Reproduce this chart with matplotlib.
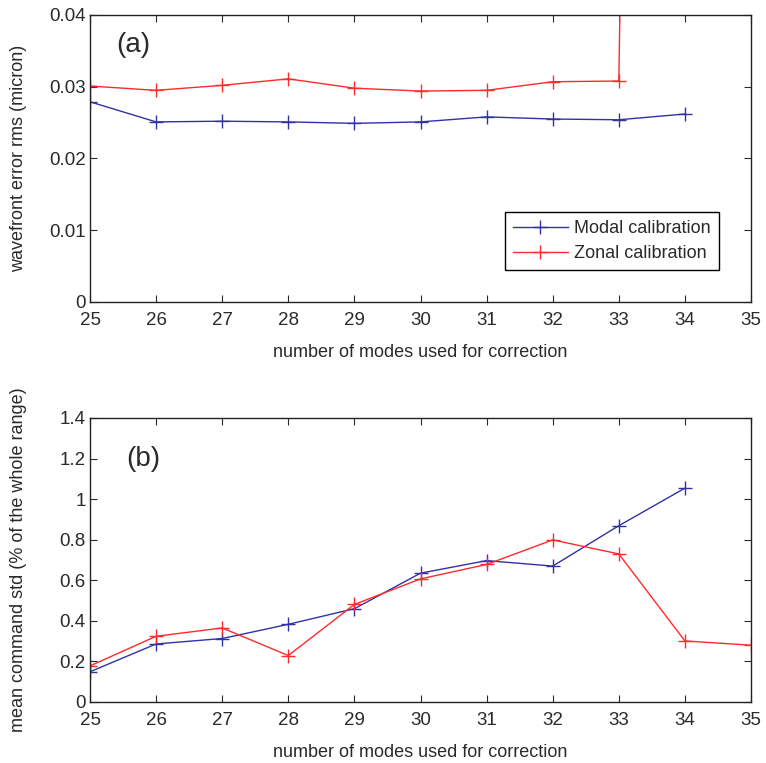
import matplotlib
matplotlib.use("Agg")
import matplotlib.pyplot as plt
import numpy as np

modes = [25, 26, 27, 28, 29, 30, 31, 32, 33, 34, 35]

# (a) wavefront error rms (micron)
wf_modal = [0.0279, 0.0251, 0.0252, 0.0251, 0.0249, 0.0251, 0.0258, 0.0255, 0.0254, 0.0262]
wf_zonal = [0.0301, 0.0295, 0.0302, 0.0311, 0.0298, 0.0294, 0.0295, 0.0307, 0.0308, 0.61, 0.55]

# (b) mean command std (% of the whole range)
cmd_modal = [0.149, 0.286, 0.313, 0.383, 0.460, 0.635, 0.697, 0.670, 0.869, 1.054]
cmd_zonal = [0.178, 0.324, 0.365, 0.229, 0.481, 0.607, 0.678, 0.799, 0.730, 0.301, 0.280]

BLUE = '#3232a6'
RED = '#ff2a2a'
TXT = '#2a2a2a'

plt.rcParams['font.family'] = ['Liberation Sans', 'DejaVu Sans']
plt.rcParams['font.size'] = 13

fig = plt.figure(figsize=(7.66, 7.63), dpi=100)
W, H = 766, 763
ax_a = fig.add_axes([90 / W, 1 - 302 / H, 661 / W, 287 / H])
ax_b = fig.add_axes([90 / W, 1 - 702 / H, 661 / W, 284 / H])

mk = dict(marker='+', markersize=10, markeredgewidth=1.0, lw=1.0)

ax_a.plot(modes[:len(wf_modal)], wf_modal, color=BLUE, label='Modal calibration', **mk)
ax_a.plot(modes[:len(wf_zonal)], wf_zonal, color=RED, label='Zonal calibration', **mk)
ax_a.set_ylim(0, 0.04)
ax_a.set_yticks([0, 0.01, 0.02, 0.03, 0.04])
ax_a.set_yticklabels(['0', '0.01', '0.02', '0.03', '0.04'])
ax_a.set_ylabel('wavefront error rms (micron)', color=TXT)
ax_a.text(0.04, 0.895, '(a)', transform=ax_a.transAxes, fontsize=20, va='center', color=TXT)
leg = ax_a.legend(loc='lower right', bbox_to_anchor=(0.951, 0.111), fancybox=False,
                  edgecolor='black', framealpha=1, fontsize=13, handlelength=3.0,
                  borderpad=0.45, labelspacing=0.42, handletextpad=0.35,
                  borderaxespad=0.0)
leg.get_frame().set_linewidth(1.0)
for t in leg.get_texts():
    t.set_color(TXT)

ax_b.plot(modes[:len(cmd_modal)], cmd_modal, color=BLUE, **mk)
ax_b.plot(modes[:len(cmd_zonal)], cmd_zonal, color=RED, **mk)
ax_b.set_ylim(0, 1.4)
ax_b.set_yticks([0, 0.2, 0.4, 0.6, 0.8, 1.0, 1.2, 1.4])
ax_b.set_yticklabels(['0', '0.2', '0.4', '0.6', '0.8', '1', '1.2', '1.4'])
ax_b.set_ylabel('mean command std (% of the whole range)', color=TXT)
ax_b.text(0.055, 0.855, '(b)', transform=ax_b.transAxes, fontsize=20, va='center', color=TXT)

for ax in (ax_a, ax_b):
    ax.set_xlim(25, 35)
    ax.set_xticks(modes)
    ax.set_xlabel('number of modes used for correction', labelpad=11, color=TXT)
    ax.yaxis.set_label_coords(-0.096, 0.5)
    ax.tick_params(direction='in', top=True, right=True, length=5, width=0.8,
                   labelsize=13.5, colors=TXT)
    ax.tick_params(axis='x', pad=7)
    ax.tick_params(axis='y', pad=3)
    for s in ax.spines.values():
        s.set_linewidth(1.0)
        s.set_color('#222222')

fig.savefig('out.png', dpi=100)
